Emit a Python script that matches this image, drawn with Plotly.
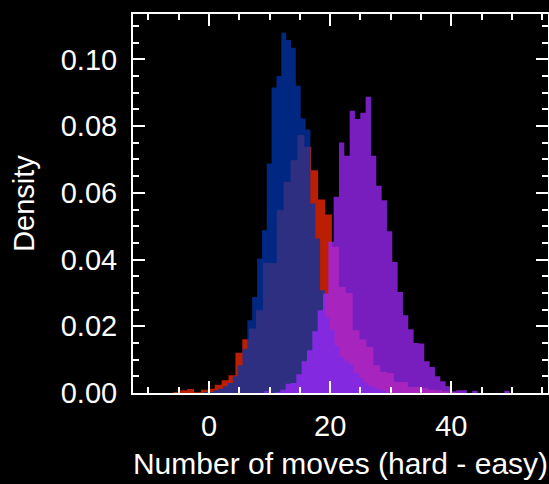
import plotly.graph_objects as go

# Histogram bins (left edge of first bin, bin width) and density heights
red_start, red_width = -5.89, 1.138
red_density = [0.0003, 0.0008, 0.0012, 0.0002, 0.0010, 0.0013, 0.0025, 0.0038, 0.0053,
               0.0121, 0.0161, 0.0193, 0.0248, 0.0390, 0.0390, 0.0548, 0.0633, 0.0698,
               0.0773, 0.0738, 0.0668, 0.0580, 0.0535, 0.0438, 0.0318, 0.0300, 0.0188,
               0.0160, 0.0138, 0.0083, 0.0063, 0.0060, 0.0033, 0.0033, 0.0018, 0.0018,
               0.0015, 0.0010, 0.0008, 0.0005, 0.0003]

blue_start, blue_width = -0.87, 0.80
blue_density = [0.0003, 0.0003, 0.0008, 0.0013, 0.0020, 0.0030, 0.0050, 0.0083, 0.0133,
                0.0218, 0.0288, 0.0403, 0.0488, 0.0688, 0.0916, 0.0950, 0.1080, 0.1058,
                0.1035, 0.0921, 0.0823, 0.0790, 0.0568, 0.0463, 0.0308, 0.0228, 0.0190,
                0.0140, 0.0108, 0.0095, 0.0085, 0.0060, 0.0045, 0.0030, 0.0020, 0.0015,
                0.0010, 0.0005]

purple_start, purple_width = 9.13, 0.88
purple_density = [0.0006, 0.0000, 0.0002, 0.0010, 0.0028, 0.0030, 0.0056, 0.0095, 0.0128,
                  0.0185, 0.0248, 0.0298, 0.0453, 0.0588, 0.0751, 0.0711, 0.0846, 0.0821,
                  0.0840, 0.0888, 0.0711, 0.0621, 0.0578, 0.0485, 0.0393, 0.0303, 0.0233,
                  0.0191, 0.0150, 0.0148, 0.0095, 0.0078, 0.0050, 0.0035, 0.0020, 0.0005,
                  0.0008, 0.0008, 0.0000, 0.0007, 0.0000, 0.0000, 0.0000, 0.0000, 0.0000,
                  0.0007]

series = [
    ("red", red_start, red_width, red_density, "rgba(250,40,0,0.75)"),
    ("blue", blue_start, blue_width, blue_density, "rgba(0,53,173,0.75)"),
    ("purple", purple_start, purple_width, purple_density, "rgba(160,40,253,0.75)"),
]

fig = go.Figure()
for name, start, width, dens, color in series:
    edges = [start + width * i for i in range(len(dens) + 1)]
    ys = list(dens) + [dens[-1]]
    fig.add_trace(go.Scatter(x=edges, y=ys, mode="lines", line=dict(shape="hv", width=0, color=color),
                             fill="tozeroy", fillcolor=color, name=name, showlegend=False,
                             hoverinfo="skip"))

font = dict(family="Liberation Sans, Arial, Helvetica, sans-serif", color="white", size=29)
title_font = dict(family="Liberation Sans, Arial, Helvetica, sans-serif", color="white", size=30)
axis_common = dict(showline=True, linecolor="white", linewidth=2, mirror="allticks",
                   ticks="inside", tickcolor="white", tickwidth=2, ticklen=12,
                   showgrid=False, zeroline=False, tickfont=font, automargin=False)

fig.update_xaxes(range=[-12.55, 55.95], tickvals=[0, 20, 40], ticktext=["0", "20", "40"],
                 minor=dict(dtick=5, tick0=0, ticks="inside", ticklen=6, tickwidth=2, tickcolor="white", showgrid=False),
                 title=dict(text="Number of moves (hard - easy)", font=title_font, standoff=12),
                 ticklabelstandoff=6, **axis_common)
fig.update_yaxes(range=[0, 0.1136], tickvals=[0, 0.02, 0.04, 0.06, 0.08, 0.10],
                 ticktext=["0.00", "0.02", "0.04", "0.06", "0.08", "0.10"],
                 minor=dict(dtick=0.005, tick0=0, ticks="inside", ticklen=6, tickwidth=2, tickcolor="white", showgrid=False),
                 title=dict(text="Density", font=font, standoff=18),
                 ticklabelstandoff=8, **axis_common)

fig.update_layout(width=549, height=484, paper_bgcolor="black", plot_bgcolor="black",
                  margin=dict(l=133, r=1, t=14, b=91), showlegend=False, template="none")

fig.write_html("out.html", config={"displayModeBar": False},
               post_script="document.body.style.margin='0';document.body.style.overflow='hidden';"
                           "document.body.style.background='black';")
